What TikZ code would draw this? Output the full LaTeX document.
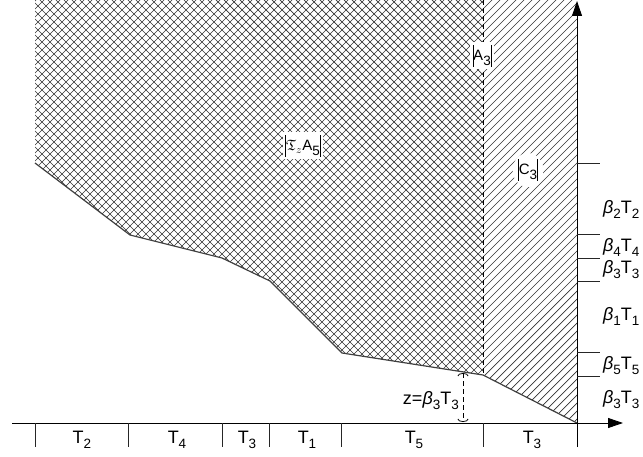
\documentclass[tikz,border=0pt]{standalone}
\usepackage{amssymb}
\usepackage{fontspec}
\setmainfont{Liberation Sans}
\usetikzlibrary{arrows.meta,shapes.geometric}
\newcommand\sbs[1]{\raisebox{-0.28em}{\fontsize{13.5}{14}\selectfont #1}}
\newcommand\bt{{\itshape β}}
\newcommand\vbr{\rule[-6pt]{0.7pt}{22pt}}
\begin{document}
\begin{tikzpicture}[x=1pt,y=-1pt,
  lab/.style={font=\fontsize{18}{21}\selectfont, inner sep=1pt},
  boxlab/.style={font=\fontsize{15}{17}\selectfont, fill=white, inner sep=2.5pt},
  tickline/.style={line width=0.9pt, draw=black!85},
  axisline/.style={line width=0.9pt, -{Triangle[length=15pt,width=10pt]}},
  bound/.style={line width=1.2pt, draw=black!75},
  hatchline/.style={line width=0.7pt, draw=black!80},
  zarrow/.style={line width=0.8pt, dash pattern=on 5pt off 3pt,
     {Arc Barb[width=11pt,length=3pt]}-{Arc Barb[width=11pt,length=3pt]}}
]
\useasboundingbox (0,0) rectangle (643,457);
% boundary points
\coordinate (TL) at (35,0);
\coordinate (TM) at (483,0);
\coordinate (TR) at (577,0);
\coordinate (P0) at (35,163);
\coordinate (P1) at (130,235);
\coordinate (P2) at (222,258);
\coordinate (P3) at (270,281);
\coordinate (P4) at (342,353);
\coordinate (P5) at (483,375);
\coordinate (O) at (577,423);
% cross-hatched region
\begin{scope}
  \clip (TL) -- (P0) -- (P1) -- (P2) -- (P3) -- (P4) -- (P5) -- (TM) -- cycle;
  \foreach \c in {32,40,...,872}
    \draw[hatchline] (\c,-4) -- ++(-440,440);
  \foreach \c in {-380,-372,...,490}
    \draw[hatchline] (\c,-4) -- ++(440,440);
\end{scope}
% diagonally hatched region
\begin{scope}
  \clip (TM) -- (P5) -- (O) -- (TR) -- cycle;
  \foreach \c in {480,488,...,1010}
    \draw[hatchline] (\c,-4) -- ++(-440,440);
\end{scope}
% boundaries
\draw[bound] (P0) -- (P1) -- (P2) -- (P3) -- (P4) -- (P5) -- (O);
\draw[line width=0.8pt, dash pattern=on 5pt off 3pt] (TM) -- (P5);
% axes
\coordinate (XS) at (12,423);
\coordinate (XE) at (623,423);
\coordinate (YS) at (577,447);
\coordinate (YE) at (577,1);
\draw[axisline] (XS) -- (XE);
\draw[axisline] (YS) -- (YE);
% ticks on x axis
\foreach \x in {35,128,222,269,341,483}
  \draw[tickline] (\x,423) -- (\x,447);
% ticks on y axis
\foreach \y in {163,234,258,281,352,376}
  \draw[tickline] (577,\y) -- (600,\y);
% x labels
\node[lab] (t2) at (82,440) {T\sbs{2}};
\node[lab] (t4) at (177,440) {T\sbs{4}};
\node[lab] (t3a) at (247,440) {T\sbs{3}};
\node[lab] (t1) at (307,440) {T\sbs{1}};
\node[lab] (t5) at (414,440) {T\sbs{5}};
\node[lab] (t3b) at (532,440) {T\sbs{3}};
% y labels
\node[lab,anchor=west] (b2) at (602,209) {\bt\sbs{2}T\sbs{2}};
\node[lab,anchor=west] (b4) at (602,247) {\bt\sbs{4}T\sbs{4}};
\node[lab,anchor=west] (b3a) at (602,270) {\bt\sbs{3}T\sbs{3}};
\node[lab,anchor=west] (b1) at (602,316) {\bt\sbs{1}T\sbs{1}};
\node[lab,anchor=west] (b5) at (602,366) {\bt\sbs{5}T\sbs{5}};
\node[lab,anchor=west] (b3b) at (602,400) {\bt\sbs{3}T\sbs{3}};
% z marker
\coordinate (ZT) at (463,373);
\coordinate (ZB) at (463,422);
\draw[zarrow] (ZT) -- (ZB);
\node[lab,anchor=east] (zl) at (460,401) {z=\bt\sbs{3}T\sbs{3}};
% region labels
\node[boxlab] (sa) at (303,146) {\vbr$\mathfrak{T}_{z}$A\sbs{5}\vbr};
\node[boxlab] (a3) at (482,56) {\vbr A\sbs{3}\vbr};
\node[boxlab,ellipse,inner sep=1pt] (c3) at (528,170) {\vbr C\sbs{3}\vbr};
\end{tikzpicture}
\end{document}
